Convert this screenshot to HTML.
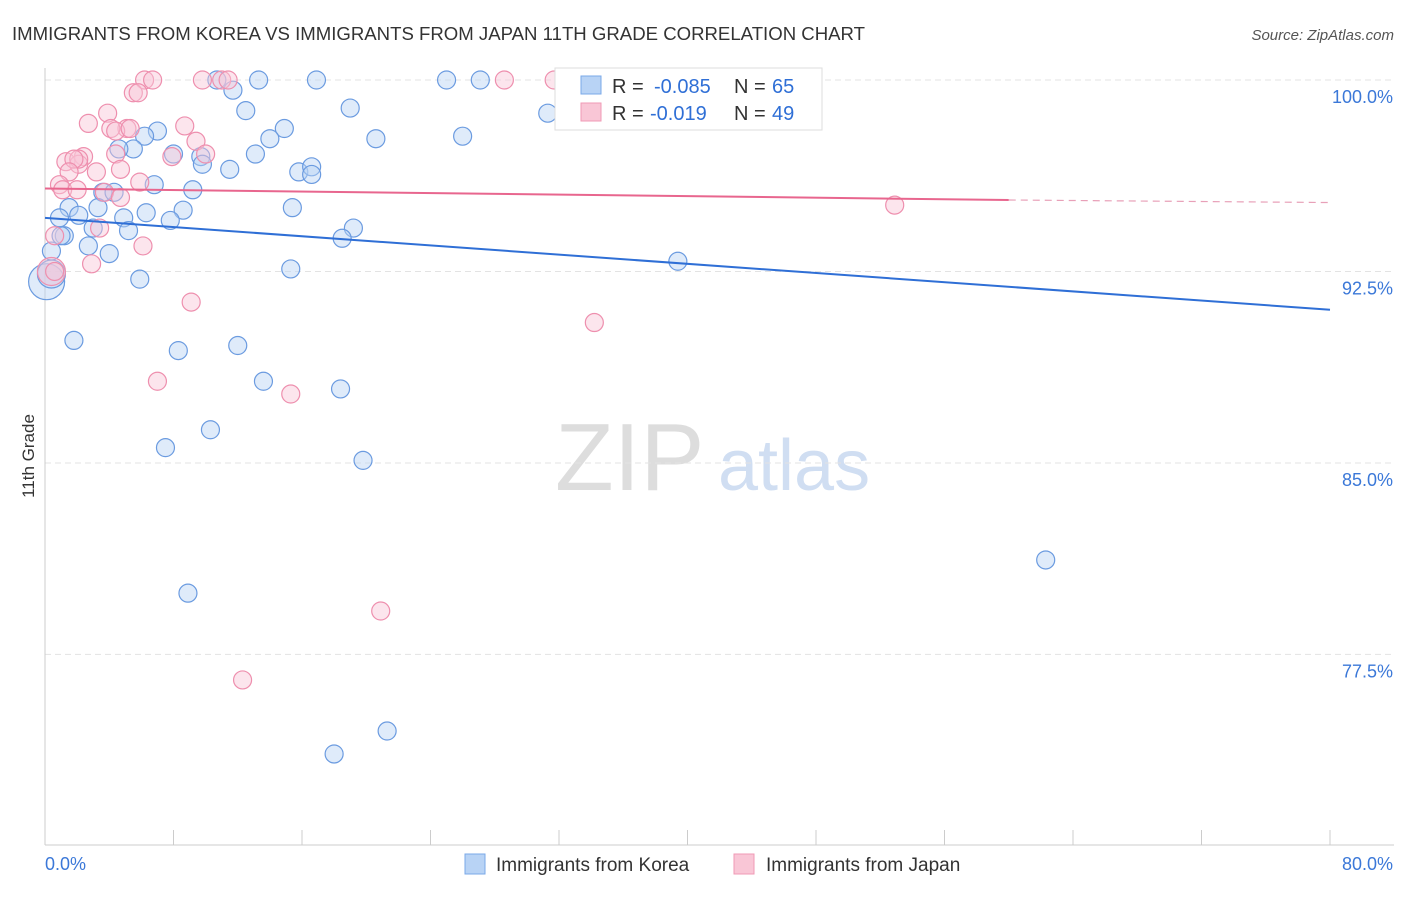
<!DOCTYPE html>
<html><head><meta charset="utf-8"><style>
body{margin:0;background:#fff;font-family:"Liberation Sans",sans-serif}
svg text{font-family:"Liberation Sans",sans-serif}
</style></head><body>
<svg id="chart" width="1406" height="892">
<text x="12" y="40" font-size="18" fill="#333" textLength="853" lengthAdjust="spacingAndGlyphs">IMMIGRANTS FROM KOREA VS IMMIGRANTS FROM JAPAN 11TH GRADE CORRELATION CHART</text>
<text x="1394" y="40" font-size="15" fill="#555" text-anchor="end" font-style="italic">Source: ZipAtlas.com</text>
<text x="34" y="456" font-size="17" fill="#333" text-anchor="middle" transform="rotate(-90 34 456)">11th Grade</text>
<g><text x="555" y="490" font-size="96" fill="#ddd" font-family="Liberation Serif">ZIP</text><text x="718" y="490" font-size="72" fill="#d0def2">atlas</text></g>
<g id="grid"></g><g id="axes"></g><g id="marks"></g>
<g>
<rect x="555" y="68" width="267" height="62" fill="#fff" stroke="#ddd"/>
<rect x="581" y="76" width="20" height="18" fill="#b8d3f5" stroke="#7aa8e8"/>
<rect x="581" y="103" width="20" height="18" fill="#f9c6d6" stroke="#f09ab5"/>
<text x="612" y="93" font-size="20" fill="#333">R =</text>
<text x="654" y="93" font-size="20" fill="#2f6fd6">-0.085</text>
<text x="734" y="93" font-size="20" fill="#333">N =</text>
<text x="772" y="93" font-size="20" fill="#2f6fd6">65</text>
<text x="612" y="120" font-size="20" fill="#333">R =</text>
<text x="650" y="120" font-size="20" fill="#2f6fd6">-0.019</text>
<text x="734" y="120" font-size="20" fill="#333">N =</text>
<text x="772" y="120" font-size="20" fill="#2f6fd6">49</text>
</g>
<g>
<rect x="465" y="854" width="20" height="20" fill="#b8d3f5" stroke="#7aa8e8"/>
<text x="496" y="871" font-size="19" fill="#333">Immigrants from Korea</text>
<rect x="734" y="854" width="20" height="20" fill="#f9c6d6" stroke="#f09ab5"/>
<text x="766" y="871" font-size="19" fill="#333">Immigrants from Japan</text>
</g>
</svg>
<script>
const yTicks=[100,92.5,85,77.5];
const yTickLabels=["100.0%","92.5%","85.0%","77.5%"];
const xTickLabels=["0.0%","80.0%"];
const koreaX=[10.7,13.3,16.9,25.0,27.1,39.3,11.7,12.5,19.0,31.3,20.6,26.0,7.0,6.2,14.9,14.0,5.5,4.6,13.1,9.7,8.0,11.5,9.8,15.8,16.6,16.6,6.8,3.6,4.3,9.2,1.5,3.3,2.1,0.9,6.3,8.6,15.4,7.8,4.9,3.0,5.2,1.2,0.4,2.7,4.0,19.2,18.5,15.3,39.4,5.9,0.1,1.8,8.3,12.0,13.6,18.4,10.3,7.5,19.8,62.3,8.9,21.3,18.0,0.4,1.0];
const koreaY=[100,100,100,100,100,100,99.6,98.8,98.9,98.7,97.7,97.8,98.0,97.8,98.1,97.7,97.3,97.3,97.1,97.0,97.1,96.5,96.7,96.4,96.6,96.3,95.9,95.6,95.6,95.7,95.0,95.0,94.7,94.6,94.8,94.9,95.0,94.5,94.6,94.2,94.1,93.9,93.3,93.5,93.2,94.2,93.8,92.6,92.9,92.2,92.1,89.8,89.4,89.6,88.2,87.9,86.3,85.6,85.1,81.2,79.9,74.5,73.6,92.4,93.9];
const koreaR=[9,9,9,9,9,9,9,9,9,9,9,9,9,9,9,9,9,9,9,9,9,9,9,9,9,9,9,9,9,9,9,9,9,9,9,9,9,9,9,9,9,9,9,9,9,9,9,9,9,9,18,9,9,9,9,9,9,9,9,9,9,9,9,14,9];
const japanX=[6.2,6.7,9.8,11.0,11.4,28.6,31.7,37.7,43.1,5.5,5.8,3.9,2.7,5.1,4.1,8.7,4.4,5.3,9.4,10.0,7.9,2.4,4.4,1.3,2.1,2.1,1.8,1.5,3.2,4.7,5.9,0.9,1.1,2.0,3.7,4.7,3.4,0.6,6.1,2.9,0.4,9.1,34.2,7.0,15.3,20.9,12.3,52.9,0.6];
const japanY=[100,100,100,100,100,100,100,100,100,99.5,99.5,98.7,98.3,98.1,98.1,98.2,98.0,98.1,97.6,97.1,97.0,97.0,97.1,96.8,96.7,96.9,96.9,96.4,96.4,96.5,96.0,95.9,95.7,95.7,95.6,95.4,94.2,93.9,93.5,92.8,92.5,91.3,90.5,88.2,87.7,79.2,76.5,95.1,92.5];
const japanR=[9,9,9,9,9,9,9,9,9,9,9,9,9,9,9,9,9,9,9,9,9,9,9,9,9,9,9,9,9,9,9,9,9,9,9,9,9,9,9,9,14,9,9,9,9,9,9,9,9];
const koreaTrend=[[0,94.6],[80,91.0]];
const japanTrend=[[0,95.75],[60,95.3],[80,95.2]];
const X=v=>45+v/80*1285, Y=v=>80+(100-v)*25.53;
const NS="http://www.w3.org/2000/svg";
function mk(t,a,p){const e=document.createElementNS(NS,t);for(const k in a)e.setAttribute(k,a[k]);document.getElementById(p).appendChild(e);return e;}
yTicks.forEach((t,i)=>{
 const l=mk('line',{x1:45,x2:1394,y1:Y(t),y2:Y(t),stroke:'#e3e3e3','stroke-dasharray':'6,4'},'grid');
 
 
 const tx=mk('text',{x:1393,y:Y(t)+23,'font-size':18,fill:'#3b78d8','text-anchor':'end'},'axes');
 tx.textContent=yTickLabels[i];
 
 
});
let a=mk('line',{x1:45,x2:45,y1:68,y2:845,stroke:'#ccc'},'axes');


a=mk('line',{x1:45,x2:1394,y1:845,y2:845,stroke:'#ccc'},'axes');


for(let i=0;i<=10;i++){const t=mk('line',{x1:X(i*8),x2:X(i*8),y1:830,y2:845,stroke:'#ccc'},'axes');
 
 }
[[0,'start',45],[80,'end',1393]].forEach((d,i)=>{const t=mk('text',{x:d[2],y:870,'font-size':18,fill:'#3b78d8','text-anchor':d[1]},'axes');t.textContent=xTickLabels[i];
 
 });
function pts(xs,ys,rs,fill,stroke,name){xs.forEach((x,i)=>{const c=mk('circle',{cx:X(x),cy:Y(ys[i]),r:rs[i],fill:fill,'fill-opacity':0.45,stroke:stroke,'stroke-width':1.2},'marks');
 
 });}
pts(koreaX,koreaY,koreaR,'#b8d3f5','#6b9be0','korea-point');
pts(japanX,japanY,japanR,'#f9c6d6','#ee8fae','japan-point');
let t=mk('line',{x1:X(koreaTrend[0][0]),y1:Y(koreaTrend[0][1]),x2:X(koreaTrend[1][0]),y2:Y(koreaTrend[1][1]),stroke:'#2f6fd6','stroke-width':2},'marks');


t=mk('line',{x1:X(japanTrend[0][0]),y1:Y(japanTrend[0][1]),x2:X(japanTrend[1][0]),y2:Y(japanTrend[1][1]),stroke:'#e8668e','stroke-width':2},'marks');


t=mk('line',{x1:X(japanTrend[1][0]),y1:Y(japanTrend[1][1]),x2:X(japanTrend[2][0]),y2:Y(japanTrend[2][1]),stroke:'#e8a0b8','stroke-width':1.2,'stroke-dasharray':'7,5'},'marks');


</script>
</body></html>
